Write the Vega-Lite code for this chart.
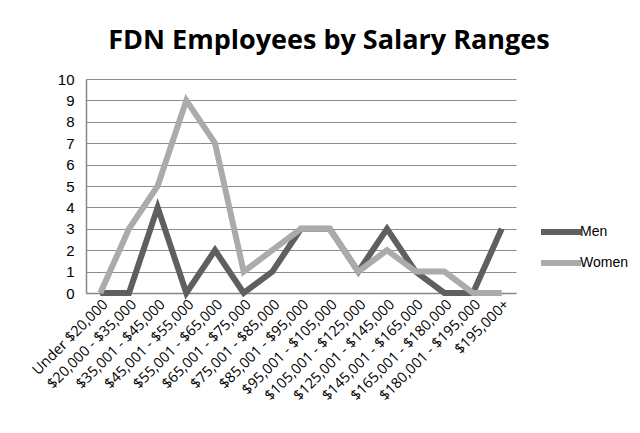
{
  "$schema": "https://vega.github.io/schema/vega-lite/v6.json",
  "autosize": {"type": "none"},
  "width": 430,
  "height": 214,
  "padding": {"left": 86, "top": 79, "right": 124, "bottom": 140},
  "background": "white",
  "title": {
    "text": "FDN Employees by Salary Ranges",
    "font": "Open Sans",
    "fontSize": 27,
    "fontWeight": "bold",
    "color": "#000000",
    "anchor": "middle",
    "dx": 28,
    "offset": 17
  },
  "data": {
    "values": [
      {"range": "Under $20,000", "series": "Men", "count": 0},
      {"range": "$20,000 - $35,000", "series": "Men", "count": 0},
      {"range": "$35,001 - $45,000", "series": "Men", "count": 4},
      {"range": "$45,001 - $55,000", "series": "Men", "count": 0},
      {"range": "$55,001 - $65,000", "series": "Men", "count": 2},
      {"range": "$65,001 - $75,000", "series": "Men", "count": 0},
      {"range": "$75,001 - $85,000", "series": "Men", "count": 1},
      {"range": "$85,001 - $95,000", "series": "Men", "count": 3},
      {"range": "$95,001 - $105,000", "series": "Men", "count": 3},
      {"range": "$105,001 - $125,000", "series": "Men", "count": 1},
      {"range": "$125,001 - $145,000", "series": "Men", "count": 3},
      {"range": "$145,001 - $165,000", "series": "Men", "count": 1},
      {"range": "$165,001 - $180,000", "series": "Men", "count": 0},
      {"range": "$180,001 - $195,000", "series": "Men", "count": 0},
      {"range": "$195,000+", "series": "Men", "count": 3},
      {"range": "Under $20,000", "series": "Women", "count": 0},
      {"range": "$20,000 - $35,000", "series": "Women", "count": 3},
      {"range": "$35,001 - $45,000", "series": "Women", "count": 5},
      {"range": "$45,001 - $55,000", "series": "Women", "count": 9},
      {"range": "$55,001 - $65,000", "series": "Women", "count": 7},
      {"range": "$65,001 - $75,000", "series": "Women", "count": 1},
      {"range": "$75,001 - $85,000", "series": "Women", "count": 2},
      {"range": "$85,001 - $95,000", "series": "Women", "count": 3},
      {"range": "$95,001 - $105,000", "series": "Women", "count": 3},
      {"range": "$105,001 - $125,000", "series": "Women", "count": 1},
      {"range": "$125,001 - $145,000", "series": "Women", "count": 2},
      {"range": "$145,001 - $165,000", "series": "Women", "count": 1},
      {"range": "$165,001 - $180,000", "series": "Women", "count": 1},
      {"range": "$180,001 - $195,000", "series": "Women", "count": 0},
      {"range": "$195,000+", "series": "Women", "count": 0}
    ]
  },
  "mark": {"type": "line", "strokeWidth": 6, "strokeJoin": "miter", "strokeCap": "butt"},
  "encoding": {
    "x": {
      "field": "range",
      "type": "nominal",
      "sort": null,
      "scale": {"type": "point", "padding": 0.5},
      "axis": {
        "title": null,
        "labelAngle": -45,
        "labelFont": "Open Sans",
        "labelFontSize": 14.5,
        "labelColor": "#000000",
        "labelPadding": 4,
        "labelOverlap": false,
        "labelLimit": 300,
        "ticks": false,
        "domainColor": "#868686",
        "grid": false
      }
    },
    "y": {
      "field": "count",
      "type": "quantitative",
      "scale": {"domain": [0, 10], "nice": false},
      "axis": {
        "title": null,
        "values": [0, 1, 2, 3, 4, 5, 6, 7, 8, 9, 10],
        "labelFont": "Liberation Sans",
        "labelFontSize": 15,
        "labelColor": "#000000",
        "labelPadding": 12,
        "ticks": false,
        "domainColor": "#868686",
        "gridColor": "#8c8c8c",
        "gridOpacity": 1
      }
    },
    "color": {
      "field": "series",
      "type": "nominal",
      "scale": {"domain": ["Men", "Women"], "range": ["#5f5f5f", "#ababab"]},
      "legend": {
        "title": null,
        "orient": "none",
        "legendX": 447,
        "legendY": 145,
        "symbolType": "M0,0H8",
        "symbolStrokeWidth": 6,
        "symbolStrokeCap": "round",
        "symbolSize": 100,
        "symbolFillColor": "transparent",
        "labelFont": "Liberation Sans",
        "labelFontSize": 14,
        "labelColor": "#000000",
        "labelOffset": 31,
        "rowPadding": 7
      }
    }
  },
  "config": {
    "view": {"stroke": null},
    "axis": {"domainWidth": 1.5}
  }
}
